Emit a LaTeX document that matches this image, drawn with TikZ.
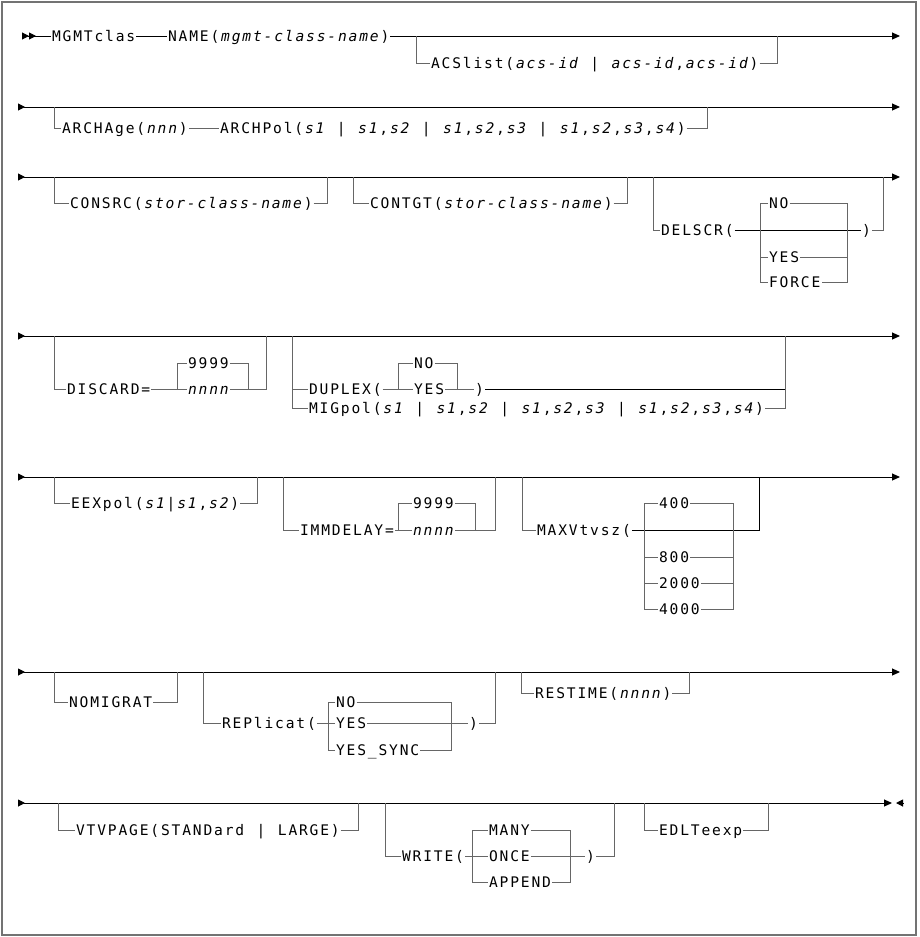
\documentclass[tikz,border=0pt]{standalone}
\usepackage{fontspec}
\usetikzlibrary{arrows.meta}
\newfontfamily\railfont{DejaVu Sans Mono}

% one fixed cell per character, *...* switches to italic
\ExplSyntaxOn
\bool_new:N \l_rail_it_bool
\dim_new:N \l_rail_cell_dim
\dim_set:Nn \l_rail_cell_dim {10.62pt}
\NewDocumentCommand \rail { m }
  {
    \bool_set_false:N \l_rail_it_bool
    \str_map_inline:nn {#1}
      {
        \str_if_eq:nnTF {##1} {*}
          { \bool_set_inverse:N \l_rail_it_bool }
          { \makebox[\l_rail_cell_dim][c]{ \bool_if:NT \l_rail_it_bool { \itshape } ##1 } }
      }
  }
\ExplSyntaxOff

\begin{document}
\begin{tikzpicture}[x=1pt,y=-1pt]
        \tikzstyle{kw}=[font=\railfont\fontsize{14.6}{17}\selectfont, inner sep=0pt, text height=10.6pt, text depth=0pt, anchor=west, text=black]
        \tikzstyle{main}=[draw=black, line width=1pt]
        \tikzstyle{br}=[draw=black!60, line width=1pt]
        \tikzstyle{row}=[{Triangle[reversed,length=7pt,width=7pt]}-{Triangle[length=8pt,width=7pt]}]
        \useasboundingbox (0,0) rectangle (919,937);
        \draw[black!55, line width=1.6pt] (2,2) rectangle (916,935);
        % junctions on the rows
        \foreach \n/\x/\y in {s1/18/36, e1/900/36, j1a/416/36, j1b/777/36,
                s2/18/107, e2/900/107, j2a/54/107, j2b/707/107,
                s3/18/177, e3/900/177, j3a/54/177, j3b/327/177, j3c/353/177, j3d/627/177, j3e/653/177, j3f/883/177,
                s4/18/336, e4/900/336, j4a/54/336, j4b/266/336, j4c/292/336, j4d/785/336,
                s5/18/477, e5/900/477, j5a/54/477, j5b/257/477, j5c/283/477, j5d/495/477, j5e/522/477, j5f/759/477,
                s6/18/672, e6/900/672, j6a/54/672, j6b/177/672, j6c/203/672, j6d/495/672, j6e/521/672, j6f/689/672,
                s7/18/803, e7/892/803, t7/903/803, u7/896/803, j7a/58/803, j7b/358/803, j7c/385/803, j7d/614/803, j7e/644/803, j7f/768/803}
            \coordinate (\n) at (\x,\y);
        % choice columns
        \foreach \n/\x/\y in {dl/760/230, dr/847/230, dcl/177/389, dcr/248/389, xl/398/389, xr/457/389,
                il/398/530, ir/475/530, ml/644/530, mr/733/530, rl/328/723, rr/451/723, wl/472/856, wr/570/856}
            \coordinate (\n) at (\x,\y);

        % row 1
        \node[kw] (mgmt) at (51,36) {\rail{MGMTclas}};
        \node[kw] (name) at (167,36) {\rail{NAME(*mgmt-class-name*)}};
        \node[kw] (acs) at (430,63) {\rail{ACSlist(*acs-id* | *acs-id*,*acs-id*)}};
        \draw[main,{Triangle[reversed,length=7pt,width=7pt,sep=4pt]Triangle[reversed,length=7pt,width=7pt]}-] (s1) -- (mgmt.west);
        \draw[main] (mgmt.east) -- (name.west);
        \draw[main,-{Triangle[length=8pt,width=7pt]}] (name.east) -- (e1);
        \draw[br] (j1a) |- (acs.west);
        \draw[br] (acs.east) -| (j1b);

        % row 2
        \draw[main,row] (s2) -- (e2);
        \node[kw] (archage) at (61,128) {\rail{ARCHAge(*nnn*)}};
        \node[kw] (archpol) at (219,128) {\rail{ARCHPol(*s1* | *s1*,*s2* | *s1*,*s2*,*s3* | *s1*,*s2*,*s3*,*s4*)}};
        \draw[br] (j2a) |- (archage.west);
        \draw[br] (archage.east) -- (archpol.west);
        \draw[br] (archpol.east) -| (j2b);

        % row 3
        \draw[main,row] (s3) -- (e3);
        \node[kw] (consrc) at (69,203) {\rail{CONSRC(*stor-class-name*)}};
        \node[kw] (contgt) at (369,203) {\rail{CONTGT(*stor-class-name*)}};
        \node[kw] (delscr) at (660,230) {\rail{DELSCR(}};
        \node[kw] (rp3) at (861,230) {\rail{)}};
        \node[kw] (dno) at (768,203) {\rail{NO}};
        \node[kw] (dyes) at (768,257) {\rail{YES}};
        \node[kw] (dforce) at (768,282) {\rail{FORCE}};
        \draw[br] (j3a) |- (consrc.west);
        \draw[br] (consrc.east) -| (j3b);
        \draw[br] (j3c) |- (contgt.west);
        \draw[br] (contgt.east) -| (j3d);
        \draw[br] (j3e) |- (delscr.west);
        \draw[main] (delscr.east) -- (rp3.west);
        \draw[br] (rp3.east) -| (j3f);
        \draw[br] (dno.west) -| (dl |- dforce.west) -- (dforce.west);
        \draw[br] (dl |- dyes.west) -- (dyes.west);
        \draw[br] (dno.east) -| (dr |- dforce.east) -- (dforce.east);
        \draw[br] (dyes.east) -- (dr |- dyes.east);

        % row 4
        \draw[main,row] (s4) -- (e4);
        \node[kw] (discard) at (66,389) {\rail{DISCARD=}};
        \node[kw] (dnine) at (187,363) {\rail{9999}};
        \node[kw] (dnnnn) at (187,389) {\rail{*nnnn*}};
        \node[kw] (duplex) at (308,389) {\rail{DUPLEX(}};
        \node[kw] (xno) at (413,363) {\rail{NO}};
        \node[kw] (xyes) at (413,389) {\rail{YES}};
        \node[kw] (rp4) at (474,389) {\rail{)}};
        \node[kw] (migpol) at (308,408) {\rail{MIGpol(*s1* | *s1*,*s2* | *s1*,*s2*,*s3* | *s1*,*s2*,*s3*,*s4*)}};
        \draw[br] (j4a) |- (discard.west);
        \draw[br] (discard.east) -- (dnnnn.west);
        \draw[br] (dnine.west) -| (dcl);
        \draw[br] (dnine.east) -| (dcr);
        \draw[br] (dnnnn.east) -| (j4b);
        \draw[br] (j4c) |- (migpol.west);
        \draw[br] (j4c |- duplex.west) -- (duplex.west);
        \draw[br] (duplex.east) -- (xyes.west);
        \draw[br] (xno.west) -| (xl);
        \draw[br] (xno.east) -| (xr);
        \draw[br] (xyes.east) -- (rp4.west);
        \draw[main] (rp4.east) -| (j4d);
        \draw[br] (migpol.east) -| (j4d);

        % row 5
        \draw[main,row] (s5) -- (e5);
        \node[kw] (eexpol) at (70,503) {\rail{EEXpol(*s1*|*s1*,*s2*)}};
        \node[kw] (immdelay) at (299,530) {\rail{IMMDELAY=}};
        \node[kw] (inine) at (412,503) {\rail{9999}};
        \node[kw] (innnn) at (412,530) {\rail{*nnnn*}};
        \node[kw] (maxv) at (536,530) {\rail{MAXVtvsz(}};
        \node[kw] (m400) at (658,503) {\rail{400}};
        \node[kw] (m800) at (658,557) {\rail{800}};
        \node[kw] (m2000) at (658,583) {\rail{2000}};
        \node[kw] (m4000) at (658,609) {\rail{4000}};
        \draw[br] (j5a) |- (eexpol.west);
        \draw[br] (eexpol.east) -| (j5b);
        \draw[br] (j5c) |- (immdelay.west);
        \draw[br] (immdelay.east) -- (innnn.west);
        \draw[br] (inine.west) -| (il);
        \draw[br] (inine.east) -| (ir);
        \draw[br] (innnn.east) -| (j5d);
        \draw[br] (j5e) |- (maxv.west);
        \draw[main] (maxv.east) -| (j5f);
        \draw[br] (m400.west) -| (ml |- m4000.west) -- (m4000.west);
        \draw[br] (ml |- m800.west) -- (m800.west);
        \draw[br] (ml |- m2000.west) -- (m2000.west);
        \draw[br] (m400.east) -| (mr |- m4000.east) -- (m4000.east);
        \draw[br] (m800.east) -- (mr |- m800.east);
        \draw[br] (m2000.east) -- (mr |- m2000.east);

        % row 6
        \draw[main,row] (s6) -- (e6);
        \node[kw] (nomigrat) at (68,702) {\rail{NOMIGRAT}};
        \node[kw] (replicat) at (221,723) {\rail{REPlicat(}};
        \node[kw] (rno) at (335,702) {\rail{NO}};
        \node[kw] (ryes) at (335,723) {\rail{YES}};
        \node[kw] (rsync) at (335,750) {\rail{YES_SYNC}};
        \node[kw] (rp6) at (468,723) {\rail{)}};
        \node[kw] (restime) at (534,693) {\rail{RESTIME(*nnnn*)}};
        \draw[br] (j6a) |- (nomigrat.west);
        \draw[br] (nomigrat.east) -| (j6b);
        \draw[br] (j6c) |- (replicat.west);
        \draw[br] (replicat.east) -- (ryes.west);
        \draw[br] (ryes.east) -- (rp6.west);
        \draw[br] (rp6.east) -| (j6d);
        \draw[br] (rno.west) -| (rl |- rsync.west) -- (rsync.west);
        \draw[br] (rno.east) -| (rr |- rsync.east) -- (rsync.east);
        \draw[br] (j6e) |- (restime.west);
        \draw[br] (restime.east) -| (j6f);

        % row 7
        \draw[main,row] (s7) -- (e7);
        \draw[main,-{Triangle[length=7pt,width=7pt]}] (t7) -- (u7);
        \node[kw] (vtvpage) at (75,830) {\rail{VTVPAGE(STANDard | LARGE)}};
        \node[kw] (write) at (401,856) {\rail{WRITE(}};
        \node[kw] (wmany) at (488,830) {\rail{MANY}};
        \node[kw] (wonce) at (488,856) {\rail{ONCE}};
        \node[kw] (wappend) at (488,882) {\rail{APPEND}};
        \node[kw] (rp7) at (585,856) {\rail{)}};
        \node[kw] (edlt) at (658,830) {\rail{EDLTeexp}};
        \draw[br] (j7a) |- (vtvpage.west);
        \draw[br] (vtvpage.east) -| (j7b);
        \draw[br] (j7c) |- (write.west);
        \draw[br] (write.east) -- (wonce.west);
        \draw[br] (wonce.east) -- (rp7.west);
        \draw[br] (rp7.east) -| (j7d);
        \draw[br] (wmany.west) -| (wl |- wappend.west) -- (wappend.west);
        \draw[br] (wmany.east) -| (wr |- wappend.east) -- (wappend.east);
        \draw[br] (j7e) |- (edlt.west);
        \draw[br] (edlt.east) -| (j7f);
\end{tikzpicture}
\end{document}
